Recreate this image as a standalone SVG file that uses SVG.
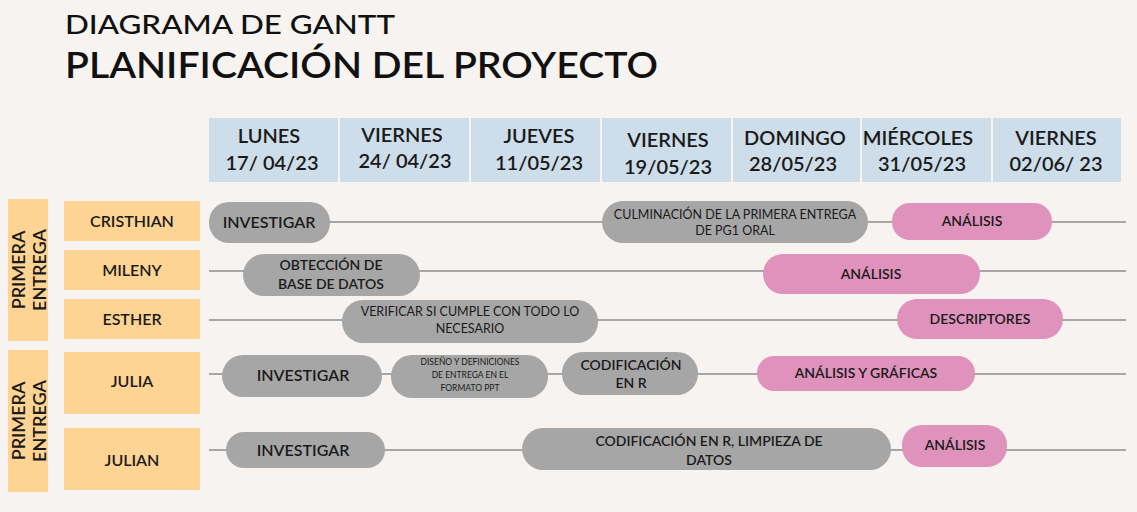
<svg xmlns="http://www.w3.org/2000/svg" width="1137" height="512" viewBox="0 0 1137 512">
<style>
.t{font-family:Lato,"Open Sans","Liberation Sans",sans-serif;fill:#1a1a1a;text-anchor:middle}
.hd{fill:#cddde9}
.hdt{font-size:20px;font-weight:600}
.nm{fill:#fdd493}
.nmt{font-size:16px;font-weight:600}
.gl{font-size:18px;font-weight:600}
.g{fill:#a6a6a6}
.p{fill:#df92bb}
.ln{stroke:#a6a6a6;stroke-width:2}
.b{font-size:16px;font-weight:600}
</style>
<rect width="1137" height="512" fill="#f7f3f0"/>
<g id="title">
<text x="65" y="34" font-family="Lato,'Open Sans','Liberation Sans',sans-serif" font-size="27" font-weight="500" fill="#111" textLength="330" lengthAdjust="spacingAndGlyphs">DIAGRAMA DE GANTT</text>
<text x="65" y="78" font-family="Lato,'Open Sans','Liberation Sans',sans-serif" font-size="37" font-weight="600" fill="#111" textLength="593" lengthAdjust="spacingAndGlyphs">PLANIFICACIÓN DEL PROYECTO</text>
</g>
<g id="header" class="t">
<rect class="hd" x="209" y="118" width="129" height="64"/>
<rect class="hd" x="340" y="118" width="129" height="64"/>
<rect class="hd" x="471" y="118" width="129" height="64"/>
<rect class="hd" x="602" y="118" width="129" height="64"/>
<rect class="hd" x="733" y="118" width="127" height="64"/>
<rect class="hd" x="862" y="118" width="129" height="64"/>
<rect class="hd" x="993" y="118" width="128" height="64"/>
<text class="t hdt" x="269" y="143">LUNES</text><text class="t hdt" x="272" y="170">17/ 04/23</text>
<text class="t hdt" x="402" y="142">VIERNES</text><text class="t hdt" x="405" y="168">24/ 04/23</text>
<text class="t hdt" x="539" y="143">JUEVES</text><text class="t hdt" x="539" y="170">11/05/23</text>
<text class="t hdt" x="668" y="147">VIERNES</text><text class="t hdt" x="668" y="174">19/05/23</text>
<text class="t hdt" x="795" y="145">DOMINGO</text><text class="t hdt" x="793" y="171">28/05/23</text>
<text class="t hdt" x="918" y="145">MIÉRCOLES</text><text class="t hdt" x="922" y="171">31/05/23</text>
<text class="t hdt" x="1056" y="145">VIERNES</text><text class="t hdt" x="1056" y="171">02/06/ 23</text>
</g>
<g id="group1">
<rect class="nm" x="8" y="199" width="40" height="142"/>
<text class="t gl" transform="translate(28 270) rotate(-90)"><tspan x="0" y="-3">PRIMERA</tspan><tspan x="0" y="18">ENTREGA</tspan></text>
</g>
<g id="group2">
<rect class="nm" x="8" y="350" width="40" height="142"/>
<text class="t gl" transform="translate(28 421) rotate(-90)"><tspan x="0" y="-3">PRIMERA</tspan><tspan x="0" y="18">ENTREGA</tspan></text>
</g>
<g id="connectors">
<line class="ln" x1="209" y1="222" x2="1126" y2="222"/>
<line class="ln" x1="209" y1="271" x2="1126" y2="271"/>
<line class="ln" x1="209" y1="320" x2="1126" y2="320"/>
<line class="ln" x1="209" y1="374" x2="1126" y2="374"/>
<line class="ln" x1="209" y1="450" x2="1126" y2="450"/>
</g>
<g id="cristhian">
<rect class="nm" x="64" y="201" width="136" height="40"/>
<text class="t nmt" x="132" y="227">CRISTHIAN</text>
<rect class="g" x="209" y="202" width="121" height="41" rx="20"/>
<text class="t b" x="269" y="228">INVESTIGAR</text>
<rect class="g" x="602" y="201" width="266" height="42" rx="21"/>
<text class="t" x="735" y="219" font-size="12.5">CULMINACIÓN DE LA PRIMERA ENTREGA</text>
<text class="t" x="735" y="235" font-size="12.5">DE PG1 ORAL</text>
<rect class="p" x="892" y="203" width="160" height="37" rx="18"/>
<text class="t" x="972" y="226" font-size="14" font-weight="600">ANÁLISIS</text>
</g>
<g id="mileny">
<rect class="nm" x="64" y="250" width="136" height="40"/>
<text class="t nmt" x="132" y="276">MILENY</text>
<rect class="g" x="243" y="254" width="177" height="42" rx="21"/>
<text class="t" x="331" y="270" font-size="14" font-weight="600">OBTECCIÓN DE</text>
<text class="t" x="331" y="289" font-size="14" font-weight="600">BASE DE DATOS</text>
<rect class="p" x="763" y="254" width="217" height="40" rx="20"/>
<text class="t" x="871" y="279" font-size="14" font-weight="600">ANÁLISIS</text>
</g>
<g id="esther">
<rect class="nm" x="64" y="299" width="136" height="40"/>
<text class="t nmt" x="132" y="325">ESTHER</text>
<rect class="g" x="342" y="300" width="256" height="43" rx="21"/>
<text class="t" x="470" y="316" font-size="12.5">VERIFICAR SI CUMPLE CON TODO LO</text>
<text class="t" x="470" y="333" font-size="12.5">NECESARIO</text>
<rect class="p" x="897" y="299" width="166" height="40" rx="20"/>
<text class="t" x="980" y="324" font-size="14" font-weight="600">DESCRIPTORES</text>
</g>
<g id="julia">
<rect class="nm" x="64" y="352" width="136" height="62"/>
<text class="t nmt" x="132" y="387">JULIA</text>
<rect class="g" x="222" y="355" width="160" height="42" rx="21"/>
<text class="t b" x="303" y="381">INVESTIGAR</text>
<rect class="g" x="391" y="355" width="157" height="43" rx="21"/>
<text class="t" x="470" y="365" font-size="8.5">DISEÑO  Y DEFINICIONES</text>
<text class="t" x="470" y="378" font-size="8.5">DE ENTREGA EN EL</text>
<text class="t" x="470" y="391" font-size="8.5">FORMATO PPT</text>
<rect class="g" x="562" y="352" width="136" height="43" rx="21"/>
<text class="t" x="631" y="370" font-size="14" font-weight="600">CODIFICACIÓN</text>
<text class="t" x="631" y="388" font-size="14" font-weight="600">EN R</text>
<rect class="p" x="757" y="356" width="218" height="35" rx="17"/>
<text class="t" x="866" y="378" font-size="14" font-weight="600">ANÁLISIS Y GRÁFICAS</text>
</g>
<g id="julian">
<rect class="nm" x="64" y="428" width="136" height="62"/>
<text class="t nmt" x="132" y="466">JULIAN</text>
<rect class="g" x="226" y="432" width="159" height="36" rx="18"/>
<text class="t b" x="303" y="456">INVESTIGAR</text>
<rect class="g" x="522" y="428" width="369" height="42" rx="21"/>
<text class="t" x="709" y="446" font-size="14" font-weight="600">CODIFICACIÓN EN R, LIMPIEZA DE</text>
<text class="t" x="709" y="465" font-size="14" font-weight="600">DATOS</text>
<rect class="p" x="902" y="425" width="105" height="42" rx="20"/>
<text class="t" x="955" y="450" font-size="14" font-weight="600">ANÁLISIS</text>
</g>
</svg>
